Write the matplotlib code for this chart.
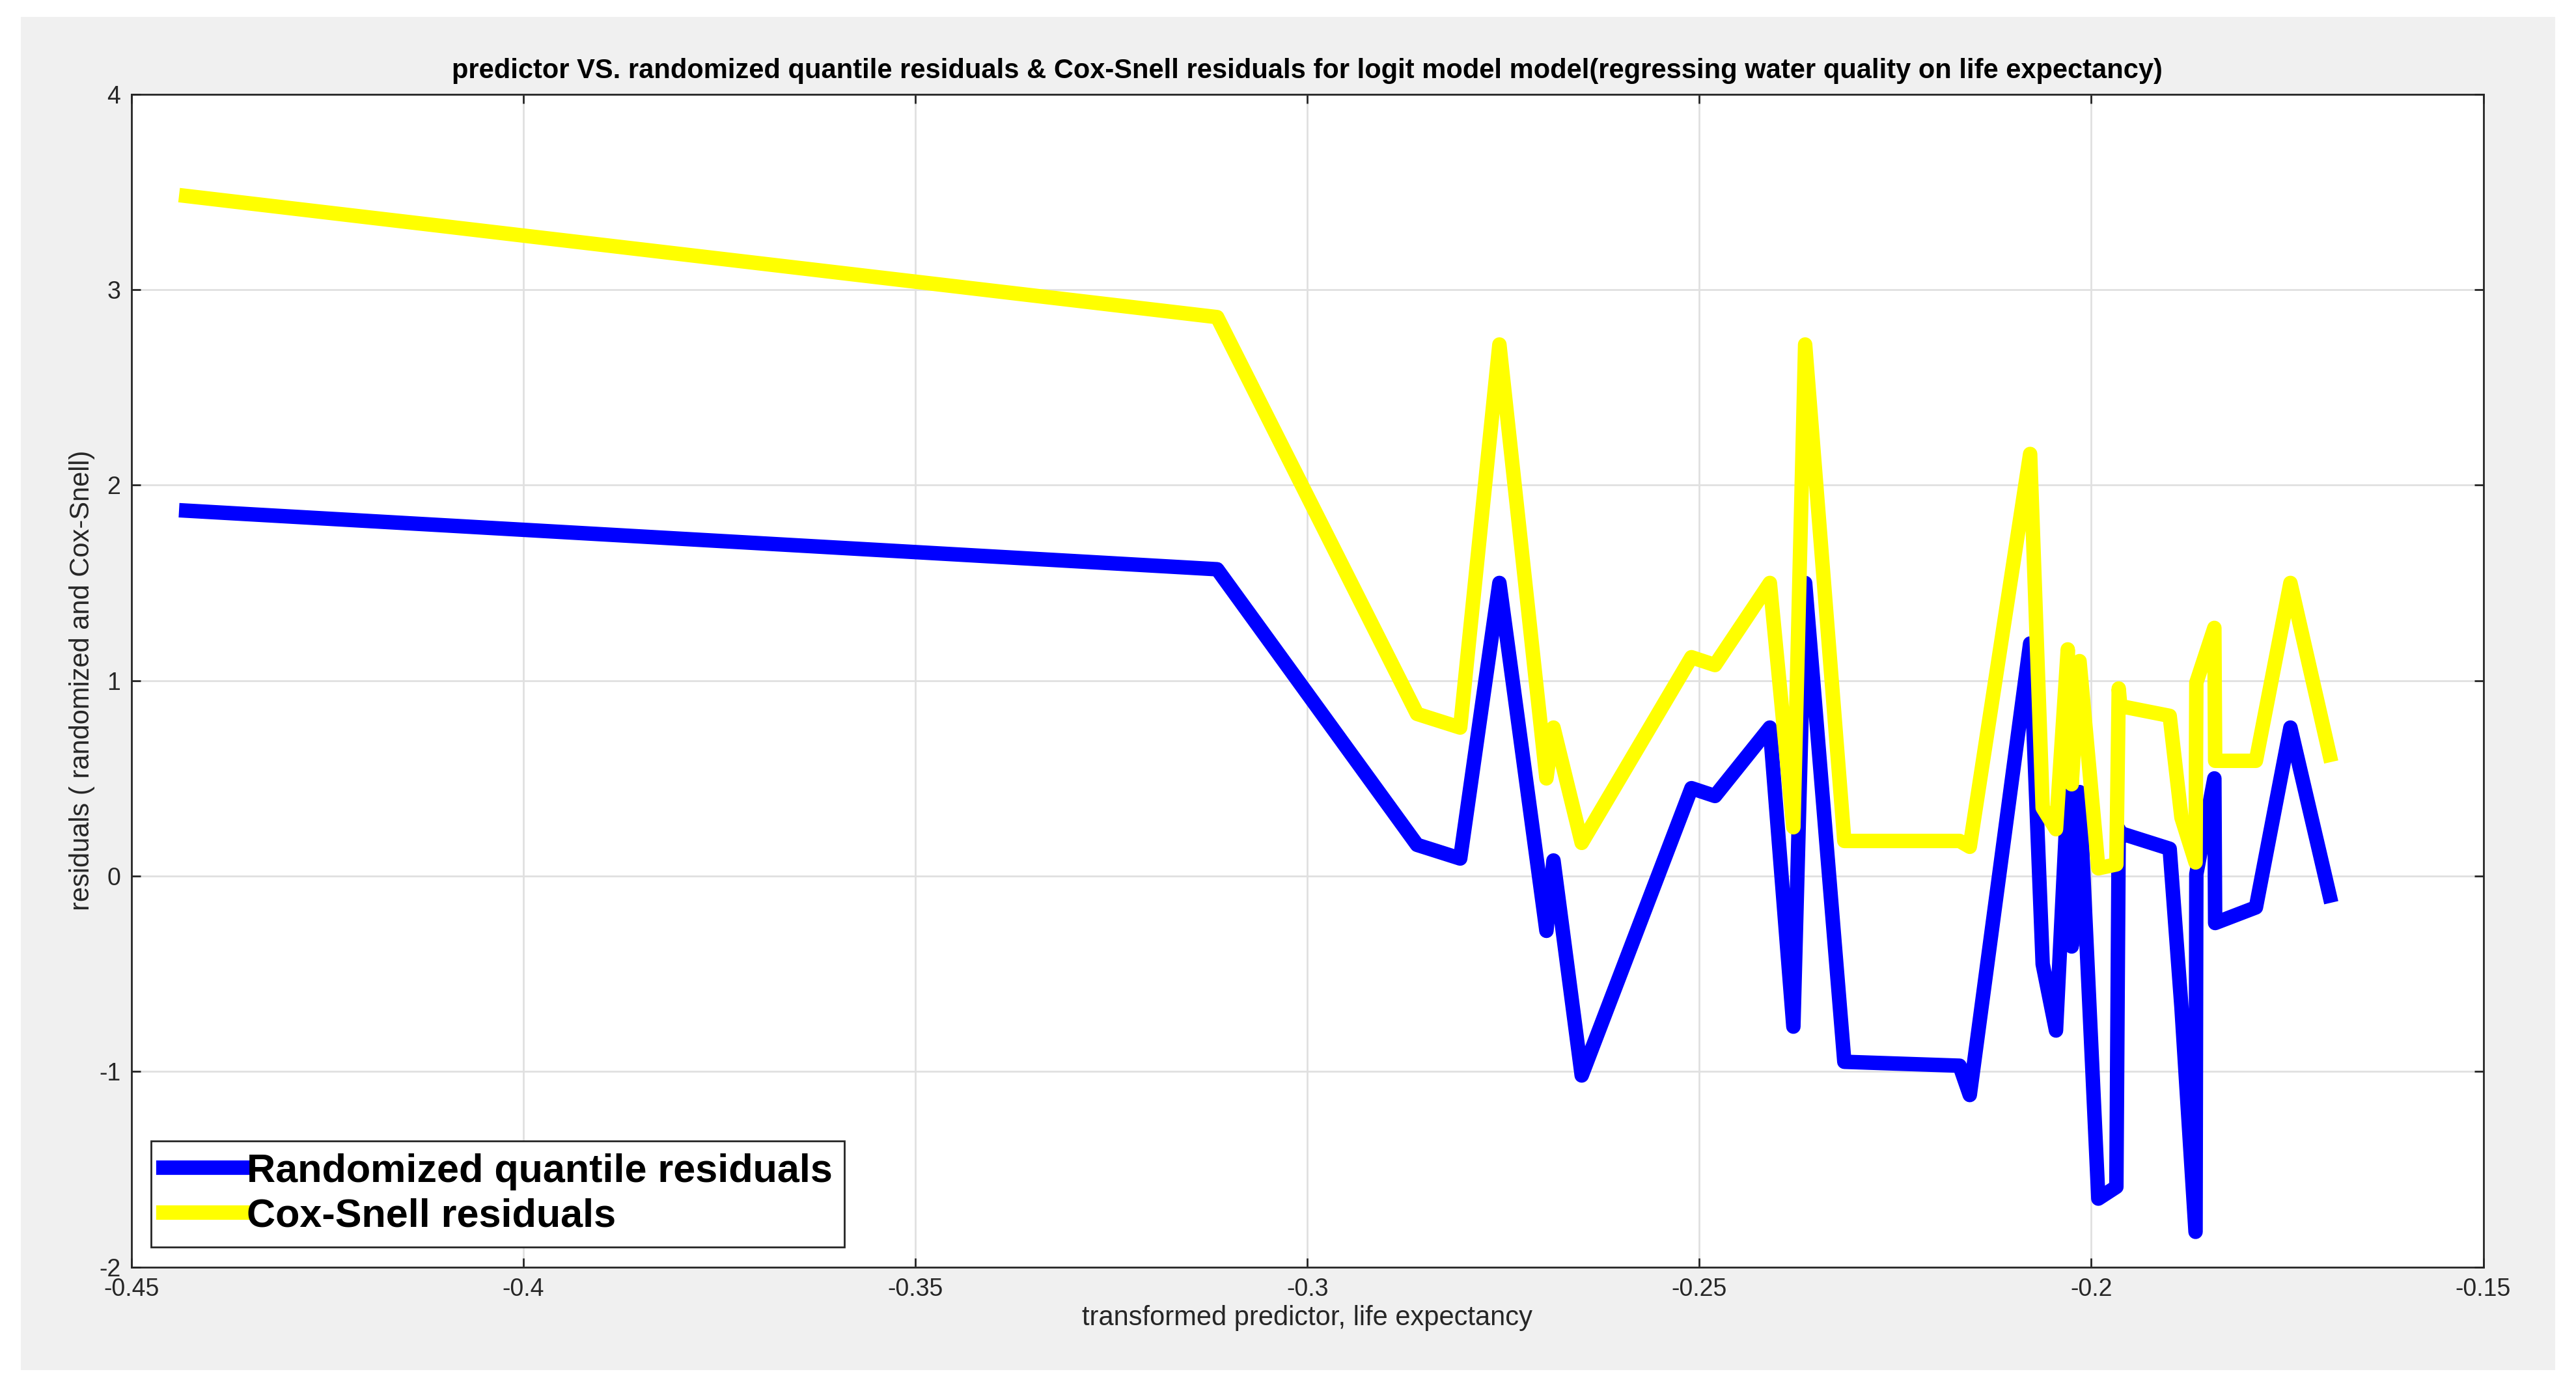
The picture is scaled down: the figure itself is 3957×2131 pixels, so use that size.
import matplotlib
matplotlib.use("Agg")
import matplotlib.pyplot as plt
from matplotlib.patches import Rectangle

plt.rcParams['axes.unicode_minus'] = False
plt.rcParams['font.family'] = ['Liberation Sans', 'DejaVu Sans']

x = [-0.443, -0.3115, -0.286, -0.2805, -0.2755, -0.2695, -0.2686, -0.265, -0.251, -0.248,
     -0.241, -0.238, -0.2365, -0.2315, -0.2168, -0.2155, -0.2078, -0.2062, -0.2045, -0.203,
     -0.2025, -0.2015, -0.1991, -0.1968, -0.1965, -0.1963, -0.19, -0.1885, -0.1867, -0.1866,
     -0.1843, -0.1842, -0.179, -0.1746, -0.1696]
randomized = [1.87, 1.57, 0.16, 0.09, 1.50, -0.28, 0.08, -1.02, 0.45, 0.41,
              0.76, -0.77, 1.50, -0.95, -0.97, -1.12, 1.19, -0.45, -0.79, 0.43,
              -0.36, 0.43, -1.65, -1.59, 0.24, 0.22, 0.14, -0.67, -1.82, 0.01,
              0.50, -0.24, -0.16, 0.76, -0.10]
coxsnell = [3.48, 2.86, 0.83, 0.76, 2.72, 0.50, 0.76, 0.17, 1.12, 1.08,
            1.50, 0.25, 2.72, 0.18, 0.18, 0.15, 2.16, 0.35, 0.24, 1.16,
            0.47, 1.10, 0.04, 0.06, 0.96, 0.87, 0.82, 0.30, 0.07, 0.99,
            1.27, 0.59, 0.59, 1.50, 0.62]
xticks = [-0.45, -0.4, -0.35, -0.3, -0.25, -0.2, -0.15]
yticks = [-2, -1, 0, 1, 2, 3, 4]

fig = plt.figure(figsize=(39.57, 21.31), dpi=100, facecolor='white')
fig.patches.append(Rectangle((0.008, 0.012), 0.984, 0.976, transform=fig.transFigure,
                             facecolor='#f0f0f0', edgecolor='none', zorder=-10))
ax = fig.add_axes([0.051, 0.0865, 0.913, 0.8455])
ax.plot(x, randomized, color='#0000ff', lw=16, label='Randomized quantile residuals')
ax.plot(x, coxsnell, color='#ffff00', lw=16, label='Cox-Snell residuals')
ax.set_xlim(-0.45, -0.15)
ax.set_ylim(-2, 4)
ax.set_xticks(xticks)
ax.set_xticklabels([f"{t:g}" for t in xticks])
ax.set_yticks(yticks)
ax.set_yticklabels([f"{t:g}" for t in yticks])
ax.grid(True, color='#e0e0e0', lw=2)
ax.set_axisbelow(True)
ax.tick_params(labelsize=27, colors='#262626', length=10, width=2, direction='in',
               top=True, right=True, pad=12)
for s in ax.spines.values():
    s.set_color('#262626'); s.set_linewidth(2)
ax.set_title('predictor VS. randomized quantile residuals & Cox-Snell residuals for logit model model(regressing water quality on life expectancy)',
             fontsize=30, fontweight='bold', pad=18)
ax.set_xlabel('transformed predictor, life expectancy', fontsize=30, color='#262626')
ax.set_ylabel('residuals ( randomized and Cox-Snell)', fontsize=30, color='#262626')
leg = ax.legend(loc='lower left', handlelength=2.0, borderaxespad=0.5,
                fancybox=False, edgecolor='#262626', framealpha=1, handletextpad=0.1,
                labelspacing=0.2, borderpad=0.3, prop={'size': 44, 'weight': 'bold'})
leg.get_frame().set_linewidth(2)
fig.savefig('out.png', dpi=100)
